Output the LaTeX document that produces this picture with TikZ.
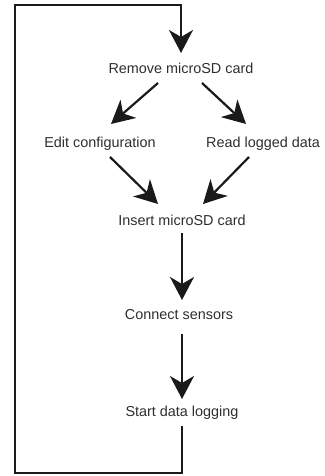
\documentclass[tikz,border=0pt]{standalone}
\usepackage{fontspec}
\setmainfont{Liberation Sans}
\usetikzlibrary{arrows.meta}
\definecolor{txt}{HTML}{2E2E2E}
\definecolor{ink}{HTML}{1A1A1A}
\tikzset{
  stepnode/.style={text=txt, font=\fontsize{14.4}{17}\selectfont, inner sep=0pt},
  flow/.style={draw=ink, line width=2.2pt, -{Stealth[length=23pt, width=24pt, inset=7pt]}},
}
\begin{document}
\begin{tikzpicture}[x=1pt, y=-1pt]
\useasboundingbox (0,0) rectangle (324,476);
\node[stepnode] (remove) at (181,68) {Remove microSD card};
\node[stepnode] (edit) at (100,144) {Edit configuration};
\node[stepnode] (read) at (263,144) {Read logged data};
\node[stepnode] (insert) at (182,220) {Insert microSD card};
\node[stepnode] (connect) at (179,315) {Connect sensors};
\node[stepnode] (start) at (182,413) {Start data logging};

\coordinate (rTop) at (181,53);
\coordinate (rOutL) at (158,83);
\coordinate (rOutR) at (202,83);
\coordinate (eIn) at (111,124);
\coordinate (dIn) at (246,124);
\coordinate (eOut) at (110,157);
\coordinate (dOut) at (249,157);
\coordinate (iInL) at (158,204);
\coordinate (iInR) at (203,204);
\coordinate (iOut) at (182,233);
\coordinate (cIn) at (182,300);
\coordinate (cOut) at (182,334);
\coordinate (sIn) at (182,399);
\coordinate (sOut) at (182,426);

\draw[flow] (rOutL) -- (eIn);
\draw[flow] (rOutR) -- (dIn);
\draw[flow] (eOut) -- (iInL);
\draw[flow] (dOut) -- (iInR);
\draw[flow] (iOut) -- (cIn);
\draw[flow] (cOut) -- (sIn);
\draw[flow] (sOut) -- (182,473) -- (15,473) -- (15,5) -- (181,5) -- (rTop);
\end{tikzpicture}
\end{document}
